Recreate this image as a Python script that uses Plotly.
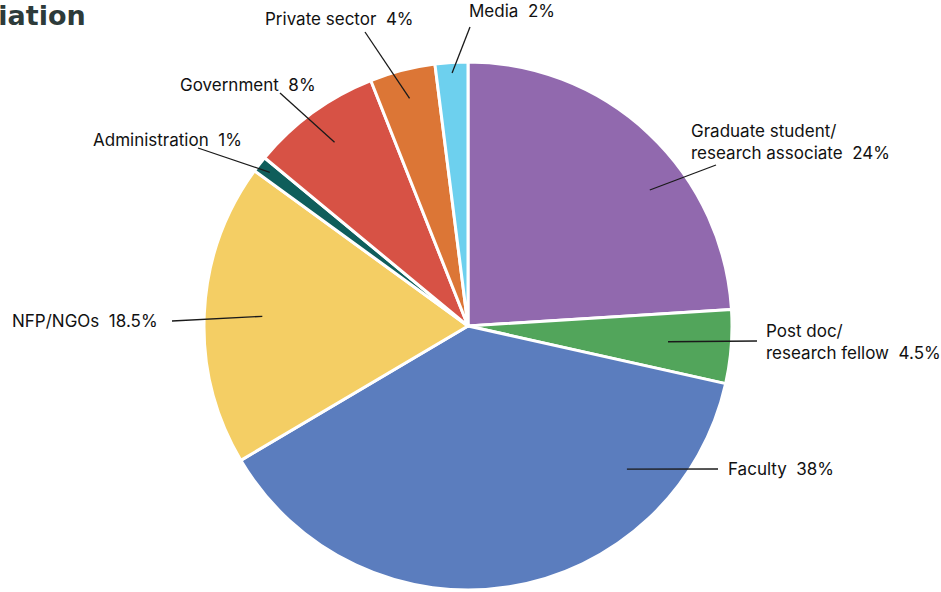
import math
import plotly.graph_objects as go

labels = ["Graduate student/<br>research associate", "Post doc/<br>research fellow", "Faculty",
          "NFP/NGOs", "Administration", "Government", "Private sector", "Media"]
values = [24, 4.5, 38, 18.5, 1, 8, 4, 2]
pct_text = ["24%", "4.5%", "38%", "18.5%", "1%", "8%", "4%", "2%"]
colors = ["#9169AE", "#52A55B", "#5B7DBE", "#F4CE64", "#0F5E5B", "#D75245", "#DC7636", "#6DD0EE"]

W, H = 941, 592
cx, cy, R = 468, 326, 264

# leader-line layout (angle shift in degrees, inner radius frac, end point px, text position)
ang_shift = [10, 0, -39, 0, 0, 0, 0, 0]
inner_frac = [0.86, 0.76, 0.81, 0.78, 0.95, 0.86, 0.89, 0.96]
end_pts = [(716, 165), (757, 341), (718, 469), (172, 321), (198, 148), (280, 93), (365, 32), (470, 27)]
text_pos = [(689, 142, "left"), (764, 342, "left"), (726, 469, "left"), (160, 321, "right"),
            (244, 140, "right"), (318, 85, "right"), (416, 19, "right"), (467, 11, "left")]

fig = go.Figure(go.Pie(
    labels=labels, values=values, sort=False, direction="clockwise", rotation=0,
    marker=dict(colors=colors, line=dict(color="white", width=3)),
    textinfo="none", hoverinfo="label+percent", showlegend=False,
    domain=dict(x=[(cx - R) / W, (cx + R) / W], y=[(H - cy - R) / H, (H - cy + R) / H]),
))

def px(x, y):
    return x / W, 1 - y / H

total = sum(values)
cum = 0
shapes, annots = [], []
for i, v in enumerate(values):
    mid = (cum + v / 2) / total * 360 + ang_shift[i]
    cum += v
    r = R * inner_frac[i]
    x0 = cx + r * math.sin(math.radians(mid))
    y0 = cy - r * math.cos(math.radians(mid))
    x1, y1 = end_pts[i]
    a0 = px(x0, y0); a1 = px(x1, y1)
    shapes.append(dict(type="line", xref="paper", yref="paper", x0=a0[0], y0=a0[1], x1=a1[0], y1=a1[1],
                       line=dict(color="#1a1a1a", width=1.3)))
    tx, ty, side = text_pos[i]
    t = px(tx, ty)
    annots.append(dict(xref="paper", yref="paper", x=t[0], y=t[1], xanchor=side, yanchor="middle",
                       text=f"{labels[i]}  {pct_text[i]}", showarrow=False, align="left",
                       font=dict(family="Inter, Roboto, sans-serif", size=17, color="#111111")))

t = px(88, 16)
annots.append(dict(xref="paper", yref="paper", x=t[0], y=t[1], xanchor="right", yanchor="middle",
                   text="<b>Affiliation</b>", showarrow=False,
                   font=dict(family="DejaVu Sans, sans-serif", size=27, color="#2D3B3A")))

fig.update_layout(width=W, height=H, margin=dict(l=0, r=0, t=0, b=0),
                  paper_bgcolor="white", plot_bgcolor="white",
                  shapes=shapes, annotations=annots)
fig.write_html("out.html", config={"displayModeBar": False},
               post_script="document.body.style.margin='0';")
